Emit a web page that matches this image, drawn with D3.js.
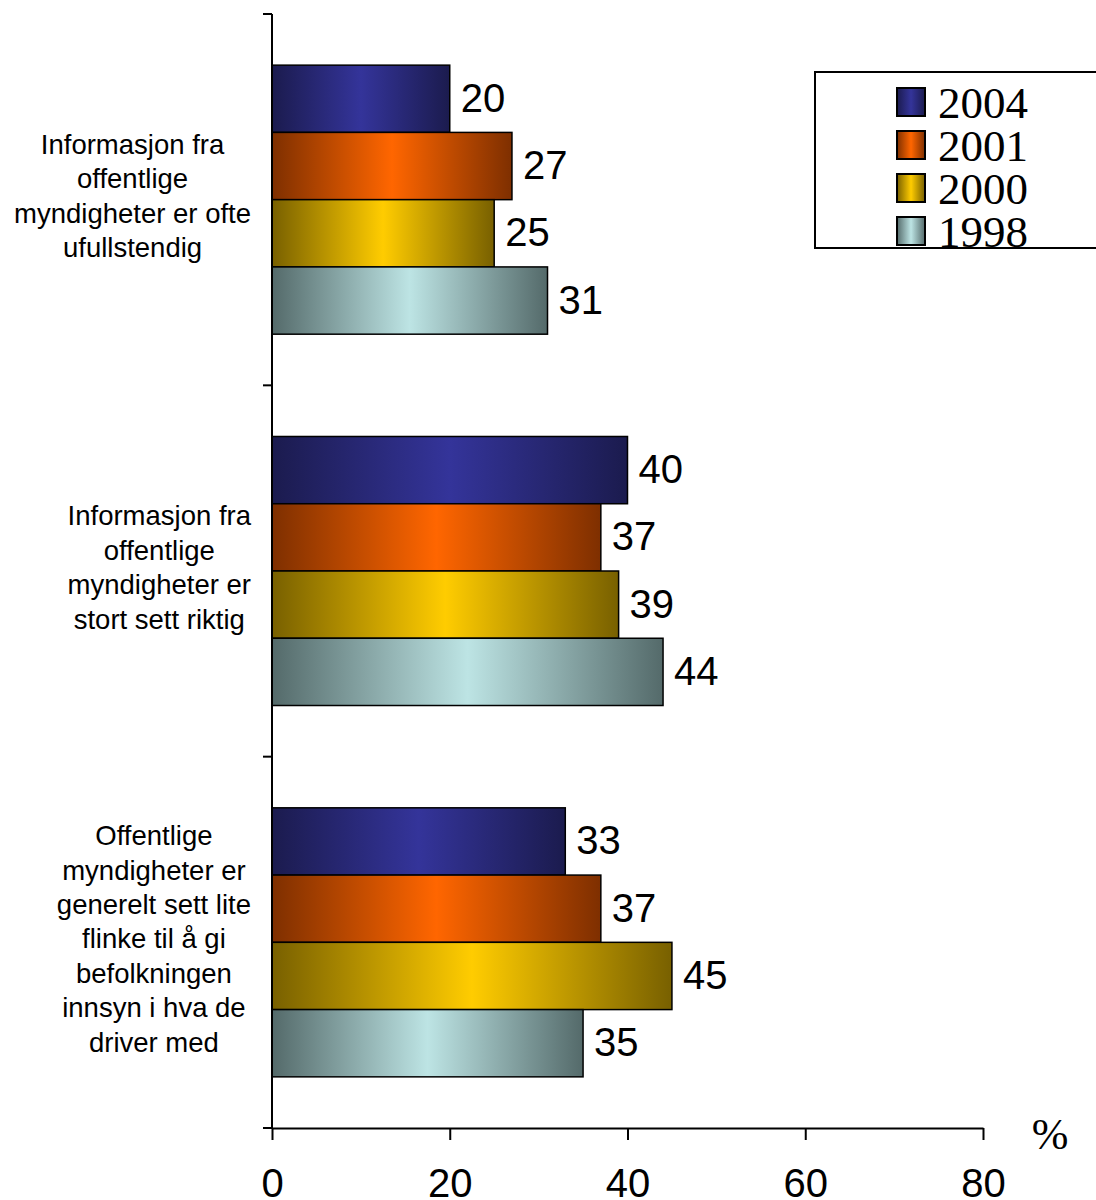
<!DOCTYPE html>
<html><head><meta charset="utf-8">
<script src="https://cdn.jsdelivr.net/npm/d3@7"></script>
<style>body{margin:0;background:#fff}svg{display:block}</style>
</head><body>
<svg id="chart" width="1096" height="1200"></svg>
<script>
const categories = [
  ["Informasjon fra","offentlige","myndigheter er ofte","ufullstendig"],
  ["Informasjon fra","offentlige","myndigheter er","stort sett riktig"],
  ["Offentlige","myndigheter er","generelt sett lite","flinke til å gi","befolkningen","innsyn i hva de","driver med"]
];
const seriesNames = ["2004","2001","2000","1998"];
const values2004 = [20,40,33];
const values2001 = [27,37,37];
const values2000 = [25,39,45];
const values1998 = [31,44,35];
const xTicks = [0,20,40,60,80];
const allValues = [values2004, values2001, values2000, values1998];
const seriesColors = [["#1b1b4e","#34349a"],["#7e2f00","#ff6600"],["#786000","#ffcc00"],["#546a6a","#bde4e4"]];

const svg = d3.select("#chart");
const sans = "'Liberation Sans', Arial, sans-serif";
const serif = "'Liberation Serif', 'Times New Roman', serif";

const defs = svg.append("defs");
seriesNames.forEach((s,i)=>{
  const g = defs.append("linearGradient").attr("id","g"+s).attr("x1","0").attr("x2","1").attr("y1","0").attr("y2","0");
  g.append("stop").attr("offset","0").attr("stop-color",seriesColors[i][0]);
  g.append("stop").attr("offset","0.5").attr("stop-color",seriesColors[i][1]);
  g.append("stop").attr("offset","1").attr("stop-color",seriesColors[i][0]);
});

const x = d3.scaleLinear().domain([0,80]).range([272,983]);
const catIdx = categories.map((c,i)=>i);
const pIn = 0.2755;
const y = d3.scaleBand().domain(catIdx).range([14,1128]).paddingInner(pIn).paddingOuter(pIn/2);
const y1 = d3.scaleBand().domain(seriesNames).range([0,y.bandwidth()]);

// bars
const data = [];
catIdx.forEach(ci=>seriesNames.forEach((s,si)=>data.push({ci,s,v:allValues[si][ci]})));
svg.append("g").selectAll("rect").data(data).join("rect")
  .attr("x",x(0)).attr("y",d=>y(d.ci)+y1(d.s))
  .attr("width",d=>x(d.v)-x(0)).attr("height",y1.bandwidth())
  .attr("fill",d=>"url(#g"+d.s+")").attr("stroke","#000").attr("stroke-width",1.5);

svg.append("g").selectAll("text").data(data).join("text")
  .attr("x",d=>x(d.v)+11).attr("y",d=>y(d.ci)+y1(d.s)+y1.bandwidth()/2+13)
  .attr("font-family",sans).attr("font-size",40).attr("fill","#000")
  .text(d=>d.v);

// y axis
const step = y.step();
const boundaries = d3.range(categories.length+1).map(i=>y.range()[0]+i*step);
const ya = svg.append("g").attr("stroke","#000").attr("stroke-width",2);
ya.append("line").attr("x1",x(0)).attr("x2",x(0)).attr("y1",boundaries[0]).attr("y2",boundaries[boundaries.length-1]);
ya.selectAll(".t").data(boundaries).join("line").attr("x1",x(0)-9).attr("x2",x(0)).attr("y1",d=>d).attr("y2",d=>d);

// x axis
const xa = svg.append("g").attr("transform",`translate(0,${boundaries[boundaries.length-1]})`)
  .call(d3.axisBottom(x).tickValues(xTicks).tickSize(12).tickSizeOuter(0).tickPadding(29));
xa.select(".domain").attr("stroke","#000").attr("stroke-width",2);
xa.selectAll(".tick line").attr("stroke","#000").attr("stroke-width",2);
xa.selectAll(".tick text").attr("font-family",sans).attr("font-size",40).attr("fill","#000");

svg.append("text").attr("x",1050).attr("y",1149).attr("text-anchor","middle")
  .attr("font-family",serif).attr("font-size",44).text("%");

// category labels
const lh = 34.4, rightEdge = 251;
categories.forEach((lines,ci)=>{
  const cy = y(ci)+y.bandwidth()/2 - 3;
  const g = svg.append("g");
  const ts = lines.map((l,li)=>g.append("text")
    .attr("y", cy + (li-(lines.length-1)/2)*lh + 9)
    .attr("font-family",sans).attr("font-size",27.5).attr("text-anchor","middle").text(l));
  const maxW = d3.max(ts,t=>t.node().getComputedTextLength());
  ts.forEach(t=>t.attr("x",rightEdge-maxW/2));
});

// legend
svg.append("rect").attr("x",815).attr("y",72).attr("width",300).attr("height",176)
  .attr("fill","#fff").attr("stroke","#000").attr("stroke-width",2);
const lg = svg.append("g").selectAll("g").data(seriesNames).join("g")
  .attr("transform",(d,i)=>`translate(897,${88+i*43})`);
lg.append("rect").attr("width",28).attr("height",28).attr("fill",d=>"url(#g"+d+")").attr("stroke","#000").attr("stroke-width",2);
lg.append("text").attr("x",41).attr("y",30).attr("font-family",serif).attr("font-size",45).text(d=>d);
</script>
</body></html>
